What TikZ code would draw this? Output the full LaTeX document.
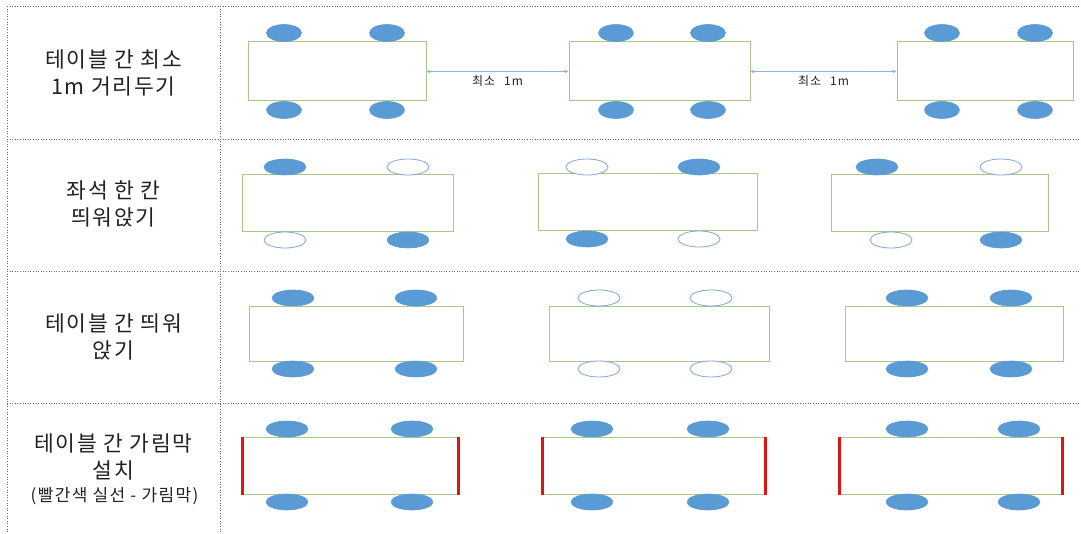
\documentclass[tikz,border=0pt]{standalone}
\usepackage{fontspec}
\setmainfont{Noto Sans CJK KR}
\newfontfamily\labfont[LetterSpace=8]{Noto Sans CJK KR}
\usetikzlibrary{shapes.geometric,arrows.meta}
\definecolor{chairblue}{HTML}{5B9BD5}
\definecolor{chairedge}{HTML}{7FA7D6}
\definecolor{tableline}{HTML}{A8C889}
\definecolor{curtainred}{HTML}{DD1515}
\definecolor{gridgray}{HTML}{666666}
\definecolor{arrowblue}{HTML}{8FB3DC}
\definecolor{textdark}{HTML}{222222}
\begin{document}
\begin{tikzpicture}[x=1pt,y=-1pt,
  tbl/.style={rectangle,draw=tableline,line width=1pt,fill=white,inner sep=0pt},
  chairf/.style={ellipse,fill=chairblue,draw=chairblue,line width=0.6pt,inner sep=0pt,minimum width=42pt,minimum height=16pt},
  chairo/.style={ellipse,fill=white,draw=chairedge,line width=0.8pt,inner sep=0pt,minimum width=42pt,minimum height=16pt},
  smallchair/.style={minimum width=35pt,minimum height=17pt},
  gridline/.style={draw=gridgray,line width=0.8pt,dash pattern=on 1pt off 1.6pt},
  label/.style={align=center,text=textdark,font=\labfont\fontsize{21.5}{27}\selectfont},
  gap/.style={draw=arrowblue,line width=0.7pt,{Stealth[length=4pt,width=3.5pt]}-{Stealth[length=4pt,width=3.5pt]}},
  gaplabel/.style={text=textdark,font=\labfont\fontsize{12}{14}\selectfont,inner sep=0pt},
  curtain/.style={draw=curtainred,line width=3.5pt}]
\useasboundingbox (0,0) rectangle (1081,534);
\fill[white] (0,0) rectangle (1081,534);

% grid
\coordinate (g0l) at (7,6);    \coordinate (g0r) at (1081,6);
\coordinate (g1l) at (7,139);  \coordinate (g1r) at (1081,139);
\coordinate (g2l) at (7,271);  \coordinate (g2r) at (1081,271);
\coordinate (g3l) at (7,403);  \coordinate (g3r) at (1081,403);
\coordinate (vat) at (7,6);    \coordinate (vab) at (7,534);
\coordinate (vbt) at (220,6);  \coordinate (vbb) at (220,534);
\path[gridline] (g0l) -- (g0r) (g1l) -- (g1r) (g2l) -- (g2r) (g3l) -- (g3r)
  (vat) -- (vab) (vbt) -- (vbb);

% labels
\node[label] (l1) at (113.5,73) {테이블 간 최소\\1m 거리두기};
\node[label] (l2) at (113.5,204) {좌석 한 칸\\띄워앉기};
\node[label] (l3) at (113.5,337) {테이블 간 띄워\\앉기};
\node[label] (l4a) at (113.5,443) {테이블 간 가림막};
\node[label] (l4b) at (113.5,470) {설치};
\node[label,font=\labfont\fontsize{17}{20}\selectfont] (l4c) at (114.5,496) {(빨간색 실선 - 가림막)};

% row 1
\node[tbl,minimum width=178pt,minimum height=59pt] (t11) at (337,71.5) {};
\node[tbl,minimum width=181pt,minimum height=59pt] (t12) at (659.5,71.5) {};
\node[tbl,minimum width=176pt,minimum height=59pt] (t13) at (985,71.5) {};
\node[chairf,smallchair] (c11a) at (284,33) {};
\node[chairf,smallchair] (c11b) at (387,33) {};
\node[chairf,smallchair] (c11c) at (284,110) {};
\node[chairf,smallchair] (c11d) at (387,110) {};
\node[chairf,smallchair] (c12a) at (616,33) {};
\node[chairf,smallchair] (c12b) at (708,33) {};
\node[chairf,smallchair] (c12c) at (616,110) {};
\node[chairf,smallchair] (c12d) at (708,110) {};
\node[chairf,smallchair] (c13a) at (942,33) {};
\node[chairf,smallchair] (c13b) at (1035,33) {};
\node[chairf,smallchair] (c13c) at (942,110) {};
\node[chairf,smallchair] (c13d) at (1035,110) {};
\draw[gap] (t11.east) -- (t12.west) node[gaplabel,midway,below=4pt] (d1) {최소\hspace{9pt}1m};
\draw[gap] (t12.east) -- (t13.west) node[gaplabel,midway,below=4pt] (d2) {최소\hspace{9pt}1m};

% row 2
\node[tbl,minimum width=211pt,minimum height=57pt] (t21) at (347.5,203.5) {};
\node[tbl,minimum width=219pt,minimum height=57pt] (t22) at (647.5,202.5) {};
\node[tbl,minimum width=217pt,minimum height=57pt] (t23) at (939.5,203.5) {};
\node[chairf] (c21a) at (285,167) {};
\node[chairo] (c21b) at (408,167) {};
\node[chairo] (c21c) at (285,240) {};
\node[chairf] (c21d) at (408,240) {};
\node[chairo] (c22a) at (587,167) {};
\node[chairf] (c22b) at (699,167) {};
\node[chairf] (c22c) at (587,239) {};
\node[chairo] (c22d) at (699,239) {};
\node[chairf] (c23a) at (877,167) {};
\node[chairo] (c23b) at (1001,167) {};
\node[chairo] (c23c) at (891,240) {};
\node[chairf] (c23d) at (1001,240) {};

% row 3
\node[tbl,minimum width=214pt,minimum height=54pt] (t31) at (356,334) {};
\node[tbl,minimum width=220pt,minimum height=54pt] (t32) at (659,334) {};
\node[tbl,minimum width=218pt,minimum height=54pt] (t33) at (954,334) {};
\node[chairf] (c31a) at (293,298) {};
\node[chairf] (c31b) at (416,298) {};
\node[chairf] (c31c) at (293,369) {};
\node[chairf] (c31d) at (416,369) {};
\node[chairo] (c32a) at (599,298) {};
\node[chairo] (c32b) at (711,298) {};
\node[chairo] (c32c) at (599,369) {};
\node[chairo] (c32d) at (711,369) {};
\node[chairf] (c33a) at (907,298) {};
\node[chairf] (c33b) at (1011,298) {};
\node[chairf] (c33c) at (907,369) {};
\node[chairf] (c33d) at (1011,369) {};

% row 4
\node[tbl,minimum width=215pt,minimum height=57pt] (t41) at (350.5,465.5) {};
\node[tbl,minimum width=222pt,minimum height=57pt] (t42) at (654,465.5) {};
\node[tbl,minimum width=222pt,minimum height=57pt] (t43) at (951,465.5) {};
\node[chairf] (c41a) at (287,429) {};
\node[chairf] (c41b) at (412,429) {};
\node[chairf] (c41c) at (287,502) {};
\node[chairf] (c41d) at (412,502) {};
\node[chairf] (c42a) at (592,429) {};
\node[chairf] (c42b) at (708,429) {};
\node[chairf] (c42c) at (592,502) {};
\node[chairf] (c42d) at (708,502) {};
\node[chairf] (c43a) at (907,429) {};
\node[chairf] (c43b) at (1019,429) {};
\node[chairf] (c43c) at (907,502) {};
\node[chairf] (c43d) at (1019,502) {};
\foreach \t in {t41,t42,t43}{
  \draw[curtain] (\t.north west) -- (\t.south west);
  \draw[curtain] (\t.north east) -- (\t.south east);
}
\end{tikzpicture}
\end{document}
